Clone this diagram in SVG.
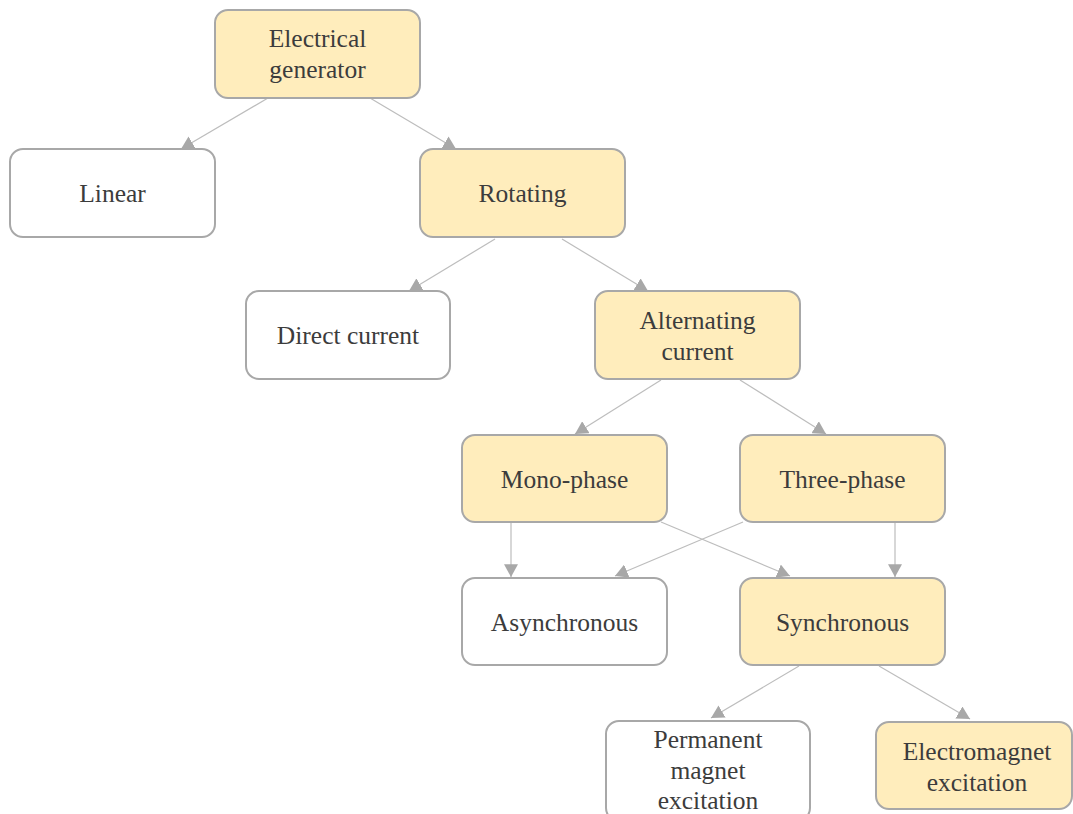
<svg xmlns="http://www.w3.org/2000/svg" width="1073" height="814" viewBox="0 0 1073 814">
<style>
.n rect{stroke:#A8A8A8;stroke-width:2}
.y rect{fill:#FFEDBC}
.w rect{fill:#FFFFFF}
.n text{font-family:'Liberation Serif','Times New Roman',serif;font-size:25.5px;fill:#3C3C3C;text-anchor:middle}
#edges line{stroke:#BDBDBD;stroke-width:1.2;marker-end:url(#ah)}
</style>
<defs>
<marker id="ah" markerUnits="userSpaceOnUse" markerWidth="14" markerHeight="14" refX="11" refY="6" orient="auto" viewBox="0 0 12 12">
<path d="M0,0 L11,6 L0,12 Z" fill="#A8A8A8"/>
</marker>
</defs>
<rect width="1073" height="814" fill="#FFFFFF"/>
<g id="edges">
<line x1="268" y1="98" x2="181" y2="149"/>
<line x1="370" y1="98" x2="456" y2="149"/>
<line x1="495" y1="239" x2="409" y2="291"/>
<line x1="562" y1="239" x2="648" y2="291"/>
<line x1="661" y1="380" x2="575" y2="434"/>
<line x1="740" y1="380" x2="826" y2="434"/>
<line x1="511" y1="522" x2="511" y2="577"/>
<line x1="661" y1="522" x2="790" y2="576"/>
<line x1="743" y1="522" x2="615" y2="576"/>
<line x1="895" y1="522" x2="895" y2="577"/>
<line x1="799" y1="666" x2="711" y2="718"/>
<line x1="879" y1="666" x2="970" y2="719"/>
</g>
<g id="gen" class="n y"><rect x="215" y="10" width="205" height="88" rx="13"/><text x="317.5" y="47">Electrical</text><text x="317.5" y="78">generator</text></g>
<g id="linear" class="n w"><rect x="10" y="149" width="205" height="88" rx="13"/><text x="112.5" y="202">Linear</text></g>
<g id="rotating" class="n y"><rect x="420" y="149" width="205" height="88" rx="13"/><text x="522.5" y="202">Rotating</text></g>
<g id="dc" class="n w"><rect x="246" y="291" width="204" height="88" rx="13"/><text x="348" y="344">Direct current</text></g>
<g id="ac" class="n y"><rect x="595" y="291" width="205" height="88" rx="13"/><text x="697.5" y="329">Alternating</text><text x="697.5" y="360">current</text></g>
<g id="mono" class="n y"><rect x="462" y="435" width="205" height="87" rx="13"/><text x="564.5" y="488">Mono-phase</text></g>
<g id="three" class="n y"><rect x="740" y="435" width="205" height="87" rx="13"/><text x="842.5" y="488">Three-phase</text></g>
<g id="async" class="n w"><rect x="462" y="578" width="205" height="87" rx="13"/><text x="564.5" y="631">Asynchronous</text></g>
<g id="sync" class="n y"><rect x="740" y="578" width="205" height="87" rx="13"/><text x="842.5" y="631">Synchronous</text></g>
<g id="pm" class="n w"><rect x="606" y="721" width="204" height="100" rx="13"/><text x="708" y="748">Permanent</text><text x="708" y="779">magnet</text><text x="708" y="809">excitation</text></g>
<g id="em" class="n y"><rect x="876" y="722" width="196" height="87" rx="13"/><text x="977" y="760">Electromagnet</text><text x="977" y="791">excitation</text></g>
</svg>
